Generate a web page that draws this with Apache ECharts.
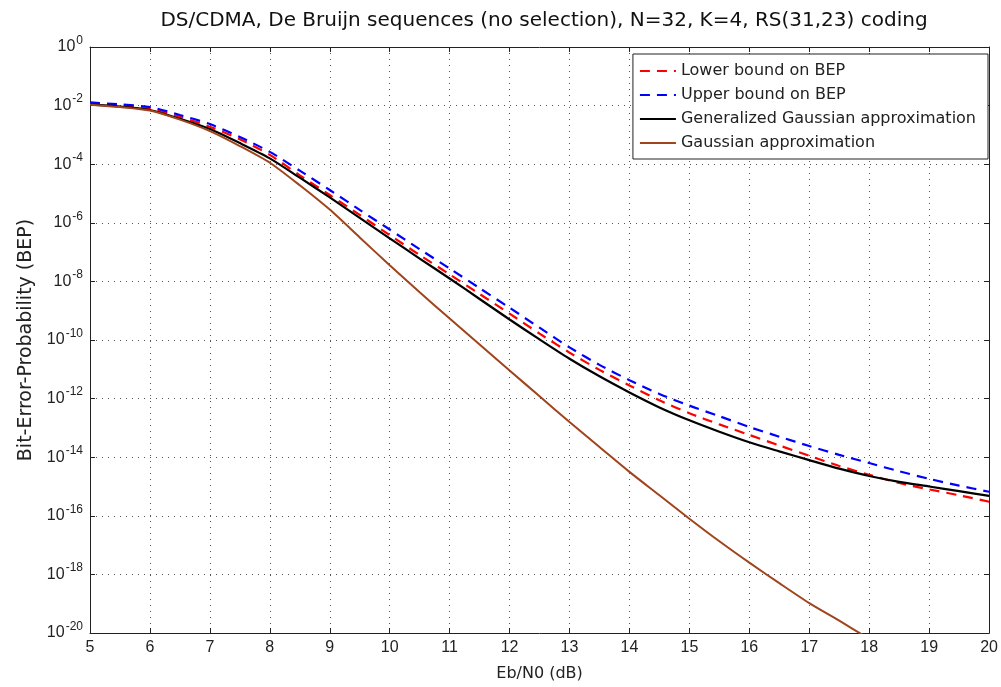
<!DOCTYPE html>
<html><head><meta charset="utf-8">
<script src="https://cdn.jsdelivr.net/npm/echarts@6/dist/echarts.min.js"></script>
<style>html,body{margin:0;padding:0;background:#fff}#c{width:1001px;height:687px}</style>
</head><body><div id="c"></div>
<script>
const ebn0 = [5,5.5,6,6.5,7,7.5,8,8.5,9,9.5,10,10.5,11,11.5,12,12.5,13,13.5,14,14.5,15,15.5,16,16.5,17,17.5,18,18.5,19,19.5,20];
const lowerBoundLog10 = [-1.92,-1.99,-2.10,-2.38,-2.72,-3.15,-3.68,-4.38,-5.05,-5.73,-6.42,-7.10,-7.76,-8.43,-9.10,-9.78,-10.43,-11.02,-11.55,-12.06,-12.50,-12.88,-13.24,-13.60,-13.95,-14.30,-14.60,-14.88,-15.10,-15.30,-15.52];
const upperBoundLog10 = [-1.89,-1.96,-2.05,-2.32,-2.63,-3.07,-3.58,-4.22,-4.88,-5.56,-6.23,-6.90,-7.56,-8.23,-8.90,-9.58,-10.25,-10.85,-11.37,-11.84,-12.24,-12.60,-12.97,-13.30,-13.62,-13.92,-14.20,-14.48,-14.74,-14.97,-15.18];
const genGaussLog10   = [-1.97,-2.03,-2.15,-2.45,-2.80,-3.28,-3.80,-4.46,-5.13,-5.83,-6.53,-7.22,-7.90,-8.60,-9.30,-9.98,-10.64,-11.24,-11.79,-12.30,-12.74,-13.13,-13.49,-13.80,-14.10,-14.39,-14.64,-14.84,-15.00,-15.16,-15.32];
const gaussEbn0  = [5,5.5,6,6.5,7,7.5,8,8.5,9,9.5,10,10.5,11,11.5,12,12.5,13,13.5,14,14.5,15,15.5,16,16.5,17,17.5,18];
const gaussLog10 = [-1.97,-2.05,-2.17,-2.48,-2.87,-3.38,-3.95,-4.72,-5.55,-6.50,-7.45,-8.37,-9.27,-10.15,-11.04,-11.92,-12.80,-13.65,-14.50,-15.30,-16.10,-16.87,-17.60,-18.30,-18.98,-19.58,-20.20];
const xTicks = [5,6,7,8,9,10,11,12,13,14,15,16,17,18,19,20];
const yTickExps = [0,-2,-4,-6,-8,-10,-12,-14,-16,-18,-20];

const toPts = (xs, ls) => xs.map((x,i)=>[x, Math.pow(10, ls[i])]);
const FONT = 'Liberation Sans, Arial, sans-serif';
const WFONT = 'DejaVu Sans, Liberation Sans, sans-serif';
const gridLine = {show:true, lineStyle:{color:'#555', type:[1,5], width:1}};

const chart = echarts.init(document.getElementById('c'), null, {renderer:'canvas'});
chart.setOption({
  animation:false,
  backgroundColor:'#fff',
  title:{text:'DS/CDMA, De Bruijn sequences (no selection), N=32, K=4, RS(31,23) coding',
    left:539, top:6, textAlign:'center',
    textStyle:{fontFamily:WFONT, fontSize:20, fontWeight:'normal', color:'#111'}},
  grid:{left:90, right:11, top:47, bottom:51},
  legend:{
    orient:'vertical', right:13, top:54, itemGap:8, itemWidth:36, itemHeight:14,
    backgroundColor:'#fff', borderColor:'#222', borderWidth:1, borderRadius:0,
    padding:[9,12,8,6],
    itemStyle:{opacity:0},
    textStyle:{fontFamily:WFONT, fontSize:16, color:'#222'},
    data:['Lower bound on BEP','Upper bound on BEP','Generalized Gaussian approximation','Gaussian approximation']
  },
  xAxis:[{
    type:'value', min:5, max:20, interval:1,
    name:'Eb/N0 (dB)', nameLocation:'middle', nameGap:33,
    nameTextStyle:{fontFamily:WFONT, fontSize:16, color:'#222'},
    axisLine:{lineStyle:{color:'#222', width:1}},
    axisTick:{inside:true, length:5, lineStyle:{color:'#222'}},
    axisLabel:{fontFamily:FONT, fontSize:16, color:'#222', margin:7,
      formatter:v=>xTicks.includes(v)?String(v):''},
    splitLine:gridLine
  },{
    type:'value', min:5, max:20, interval:1, position:'top',
    axisLine:{lineStyle:{color:'#222'}},
    axisTick:{inside:true, length:5, lineStyle:{color:'#222'}},
    axisLabel:{show:false}, splitLine:{show:false}
  }],
  yAxis:[{
    type:'log', logBase:10, min:1e-20, max:1, interval:2,
    name:'Bit-Error-Probability (BEP)', nameLocation:'middle', nameGap:54,
    nameTextStyle:{fontFamily:WFONT, fontSize:19, color:'#222'},
    axisLine:{show:true, lineStyle:{color:'#222', width:1}},
    axisTick:{inside:true, length:5, lineStyle:{color:'#222'}},
    minorTick:{show:false},
    axisLabel:{margin:7, color:'#222',
      formatter:v=>{const e=Math.round(Math.log10(v)); return yTickExps.includes(e)?'{b|10}{s|'+e+'}':'';},
      rich:{b:{fontFamily:FONT, fontSize:16, color:'#222'},
            s:{fontFamily:FONT, fontSize:12, color:'#222', padding:[0,0,13,1]}}},
    splitLine:gridLine
  },{
    type:'log', logBase:10, min:1e-20, max:1, interval:2, position:'right',
    axisLine:{show:true, lineStyle:{color:'#222'}},
    axisTick:{inside:true, length:5, lineStyle:{color:'#222'}},
    axisLabel:{show:false}, splitLine:{show:false}
  }],
  series:[
    {name:'Lower bound on BEP', type:'line', smooth:0.25, symbol:'none', clip:true,
     lineStyle:{color:'#ff0000', width:2.2, type:[10,7]}, itemStyle:{color:'#ff0000'},
     data:toPts(ebn0, lowerBoundLog10), z:3},
    {name:'Upper bound on BEP', type:'line', smooth:0.25, symbol:'none', clip:true,
     lineStyle:{color:'#0000ff', width:2.2, type:[10,7]}, itemStyle:{color:'#0000ff'},
     data:toPts(ebn0, upperBoundLog10), z:3},
    {name:'Generalized Gaussian approximation', type:'line', smooth:0.25, symbol:'none', clip:true,
     lineStyle:{color:'#000000', width:2.2}, itemStyle:{color:'#000000'},
     data:toPts(ebn0, genGaussLog10), z:4},
    {name:'Gaussian approximation', type:'line', smooth:0.25, symbol:'none', clip:true,
     lineStyle:{color:'#a0441c', width:2}, itemStyle:{color:'#a0441c'},
     data:toPts(gaussEbn0, gaussLog10), z:5}
  ]
});
</script></body></html>
